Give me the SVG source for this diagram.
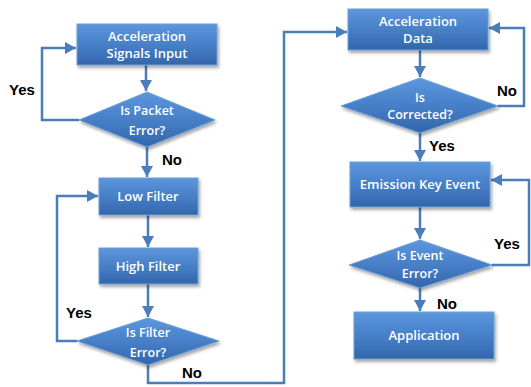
<svg xmlns="http://www.w3.org/2000/svg" width="531" height="387" viewBox="0 0 531 387">
<defs>
<linearGradient id="g" x1="0" y1="0" x2="0" y2="1">
<stop offset="0" stop-color="#5c96dc"/>
<stop offset="0.5" stop-color="#4780c8"/>
<stop offset="1" stop-color="#3366ab"/>
</linearGradient>
<filter id="sh" x="-10%" y="-10%" width="130%" height="140%">
<feDropShadow dx="1.5" dy="2.5" stdDeviation="1.5" flood-color="#000" flood-opacity="0.35"/>
</filter>
<marker id="ah" markerUnits="userSpaceOnUse" markerWidth="13" markerHeight="13" refX="11" refY="6.5" orient="auto">
<path d="M0,0.5 L11,6.5 L0,12.5 Z" fill="#4a7ebb"/>
</marker>
</defs>
<style>
.n{fill:url(#g);stroke:#6a9fd8;stroke-width:1;filter:url(#sh)}
.t{fill:#fff;font-family:"Open Sans","Liberation Sans",sans-serif;font-weight:600;font-size:13px;text-anchor:middle}
.d{font-size:12.5px}
.c{fill:none;stroke:#4a7ebb;stroke-width:2.5}
.l{fill:#000;font-family:"Liberation Sans",Arial,sans-serif;font-weight:bold;font-size:15px;text-anchor:middle}
</style>
<g id="connectors">
<path class="c" d="M146,65 V91" marker-end="url(#ah)"/>
<path class="c" d="M79,120 H42 V48 H76" marker-end="url(#ah)"/>
<path class="c" d="M147,147 V177" marker-end="url(#ah)"/>
<path class="c" d="M148,215 V247" marker-end="url(#ah)"/>
<path class="c" d="M148,284 V317" marker-end="url(#ah)"/>
<path class="c" d="M77,341 H57 V196 H98" marker-end="url(#ah)"/>
<path class="c" d="M148,365 V383 H284 V32 H347" marker-end="url(#ah)"/>
<path class="c" d="M420,50 V77" marker-end="url(#ah)"/>
<path class="c" d="M498,106 H524 V28 H489" marker-end="url(#ah)"/>
<path class="c" d="M420,133 V161" marker-end="url(#ah)"/>
<path class="c" d="M420,207 V239" marker-end="url(#ah)"/>
<path class="c" d="M492,265 H529 V180 H491" marker-end="url(#ah)"/>
<path class="c" d="M420,288 V311" marker-end="url(#ah)"/>
<text class="l" x="22" y="95">Yes</text>
<text class="l" x="172" y="165">No</text>
<text class="l" x="79" y="318">Yes</text>
<text class="l" x="192" y="378">No</text>
<text class="l" x="507" y="96">No</text>
<text class="l" x="442" y="151">Yes</text>
<text class="l" x="507" y="249">Yes</text>
<text class="l" x="447" y="309">No</text>
</g>
<g id="accel_input">
<rect class="n" x="77" y="24" width="140" height="41"/>
<text class="t" x="147" y="41">Acceleration</text>
<text class="t" x="147" y="58">Signals Input</text>
</g>
<g id="packet_error">
<polygon class="n" points="147,92 215,120 147,147 79,120"/>
<text class="t d" x="147" y="115">Is Packet</text>
<text class="t d" x="147" y="135">Error?</text>
</g>
<g id="low_filter">
<rect class="n" x="99" y="178" width="99" height="37"/>
<text class="t" x="148" y="201">Low Filter</text>
</g>
<g id="high_filter">
<rect class="n" x="99" y="248" width="99" height="36"/>
<text class="t" x="148" y="271">High Filter</text>
</g>
<g id="filter_error">
<polygon class="n" points="148,318 219,341 148,365 77,341"/>
<text class="t d" x="148" y="337">Is Filter</text>
<text class="t d" x="148" y="357">Error?</text>
</g>
<g id="accel_data">
<rect class="n" x="348" y="9" width="140" height="41"/>
<text class="t" x="418" y="26">Acceleration</text>
<text class="t" x="418" y="43">Data</text>
</g>
<g id="corrected">
<polygon class="n" points="420,78 498,106 420,133 341,106"/>
<text class="t d" x="420" y="102">Is</text>
<text class="t d" x="420" y="119">Corrected?</text>
</g>
<g id="emission">
<rect class="n" x="350" y="162" width="140" height="45"/>
<text class="t" x="420" y="189">Emission Key Event</text>
</g>
<g id="event_error">
<polygon class="n" points="420,240 492,265 420,288 349,265"/>
<text class="t d" x="420" y="260">Is Event</text>
<text class="t d" x="420" y="278">Error?</text>
</g>
<g id="application">
<rect class="n" x="354" y="312" width="140" height="47"/>
<text class="t" x="424" y="340">Application</text>
</g>
</svg>
